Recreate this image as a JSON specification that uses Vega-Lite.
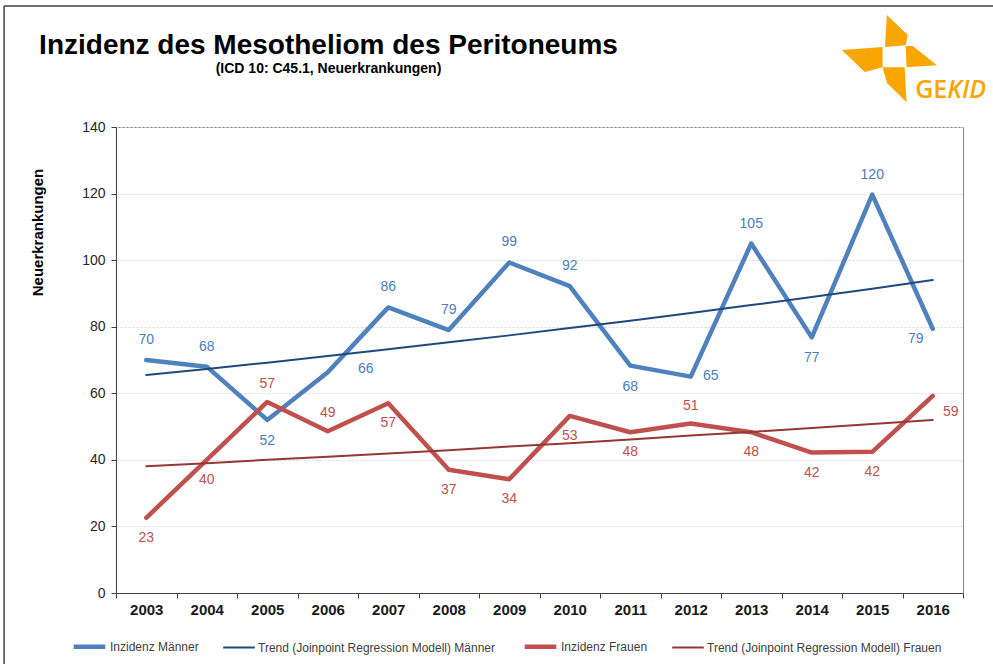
{
  "$schema": "https://vega.github.io/schema/vega-lite/v6.json",
  "autosize": {"type": "none"},
  "width": 847,
  "height": 466,
  "padding": {"left": 116, "top": 127, "right": 30, "bottom": 71},
  "background": "white",
  "config": {
    "font": "Liberation Sans",
    "view": {"stroke": "#898989", "strokeWidth": 1}
  },
  "title": {
    "text": "Inzidenz des Mesotheliom des Peritoneums",
    "subtitle": "(ICD 10: C45.1, Neuerkrankungen)",
    "anchor": "middle",
    "frame": "group",
    "dx": -211,
    "offset": -71,
    "font": "Liberation Sans",
    "fontSize": 28,
    "fontWeight": "bold",
    "color": "#000000",
    "subtitleFont": "Liberation Sans",
    "subtitleFontSize": 14,
    "subtitleFontWeight": "bold",
    "subtitleColor": "#000000",
    "subtitlePadding": 2
  },
  "datasets": {
    "series": [
      {"year": 2003, "series": "Inzidenz Männer", "value": 70},
      {"year": 2004, "series": "Inzidenz Männer", "value": 68},
      {"year": 2005, "series": "Inzidenz Männer", "value": 52},
      {"year": 2006, "series": "Inzidenz Männer", "value": 66.3},
      {"year": 2007, "series": "Inzidenz Männer", "value": 85.8},
      {"year": 2008, "series": "Inzidenz Männer", "value": 79},
      {"year": 2009, "series": "Inzidenz Männer", "value": 99.3},
      {"year": 2010, "series": "Inzidenz Männer", "value": 92.2},
      {"year": 2011, "series": "Inzidenz Männer", "value": 68.3},
      {"year": 2012, "series": "Inzidenz Männer", "value": 65},
      {"year": 2013, "series": "Inzidenz Männer", "value": 105},
      {"year": 2014, "series": "Inzidenz Männer", "value": 76.8},
      {"year": 2015, "series": "Inzidenz Männer", "value": 119.7},
      {"year": 2016, "series": "Inzidenz Männer", "value": 79.4},
      {"year": 2003, "series": "Trend (Joinpoint Regression Modell) Männer", "value": 65.5},
      {"year": 2004, "series": "Trend (Joinpoint Regression Modell) Männer", "value": 67.3},
      {"year": 2005, "series": "Trend (Joinpoint Regression Modell) Männer", "value": 69.2},
      {"year": 2006, "series": "Trend (Joinpoint Regression Modell) Männer", "value": 71.2},
      {"year": 2007, "series": "Trend (Joinpoint Regression Modell) Männer", "value": 73.2},
      {"year": 2008, "series": "Trend (Joinpoint Regression Modell) Männer", "value": 75.3},
      {"year": 2009, "series": "Trend (Joinpoint Regression Modell) Männer", "value": 77.4},
      {"year": 2010, "series": "Trend (Joinpoint Regression Modell) Männer", "value": 79.6},
      {"year": 2011, "series": "Trend (Joinpoint Regression Modell) Männer", "value": 81.8},
      {"year": 2012, "series": "Trend (Joinpoint Regression Modell) Männer", "value": 84.1},
      {"year": 2013, "series": "Trend (Joinpoint Regression Modell) Männer", "value": 86.5},
      {"year": 2014, "series": "Trend (Joinpoint Regression Modell) Männer", "value": 88.9},
      {"year": 2015, "series": "Trend (Joinpoint Regression Modell) Männer", "value": 91.4},
      {"year": 2016, "series": "Trend (Joinpoint Regression Modell) Männer", "value": 94.0},
      {"year": 2003, "series": "Inzidenz Frauen", "value": 22.6},
      {"year": 2004, "series": "Inzidenz Frauen", "value": 40},
      {"year": 2005, "series": "Inzidenz Frauen", "value": 57.4},
      {"year": 2006, "series": "Inzidenz Frauen", "value": 48.6},
      {"year": 2007, "series": "Inzidenz Frauen", "value": 57},
      {"year": 2008, "series": "Inzidenz Frauen", "value": 37},
      {"year": 2009, "series": "Inzidenz Frauen", "value": 34.2},
      {"year": 2010, "series": "Inzidenz Frauen", "value": 53.2},
      {"year": 2011, "series": "Inzidenz Frauen", "value": 48.3},
      {"year": 2012, "series": "Inzidenz Frauen", "value": 50.9},
      {"year": 2013, "series": "Inzidenz Frauen", "value": 48.3},
      {"year": 2014, "series": "Inzidenz Frauen", "value": 42.2},
      {"year": 2015, "series": "Inzidenz Frauen", "value": 42.4},
      {"year": 2016, "series": "Inzidenz Frauen", "value": 59.2},
      {"year": 2003, "series": "Trend (Joinpoint Regression Modell) Frauen", "value": 38.1},
      {"year": 2004, "series": "Trend (Joinpoint Regression Modell) Frauen", "value": 39.0},
      {"year": 2005, "series": "Trend (Joinpoint Regression Modell) Frauen", "value": 40.0},
      {"year": 2006, "series": "Trend (Joinpoint Regression Modell) Frauen", "value": 40.9},
      {"year": 2007, "series": "Trend (Joinpoint Regression Modell) Frauen", "value": 41.9},
      {"year": 2008, "series": "Trend (Joinpoint Regression Modell) Frauen", "value": 42.9},
      {"year": 2009, "series": "Trend (Joinpoint Regression Modell) Frauen", "value": 44.0},
      {"year": 2010, "series": "Trend (Joinpoint Regression Modell) Frauen", "value": 45.0},
      {"year": 2011, "series": "Trend (Joinpoint Regression Modell) Frauen", "value": 46.1},
      {"year": 2012, "series": "Trend (Joinpoint Regression Modell) Frauen", "value": 47.3},
      {"year": 2013, "series": "Trend (Joinpoint Regression Modell) Frauen", "value": 48.4},
      {"year": 2014, "series": "Trend (Joinpoint Regression Modell) Frauen", "value": 49.6},
      {"year": 2015, "series": "Trend (Joinpoint Regression Modell) Frauen", "value": 50.8},
      {"year": 2016, "series": "Trend (Joinpoint Regression Modell) Frauen", "value": 52.0}
    ]
  },
  "data": {"name": "series"},
  "layer": [
    {
      "mark": {"type": "line", "strokeCap": "round", "strokeJoin": "round"},
      "encoding": {
        "x": {
          "field": "year", "type": "quantitative",
          "scale": {"domain": [2002.5, 2016.5], "nice": false, "zero": false},
          "axis": {
            "title": null,
            "values": [2002.5, 2003.5, 2004.5, 2005.5, 2006.5, 2007.5, 2008.5, 2009.5, 2010.5, 2011.5, 2012.5, 2013.5, 2014.5, 2015.5, 2016.5],
            "labelExpr": "datum.value < 2016 ? format(datum.value + 0.5, 'd') : ''",
            "labelOffset": 30.25,
            "labelOverlap": false,
            "labelBound": false,
            "labelFlush": false,
            "labelFont": "Liberation Sans",
            "labelFontSize": 15,
            "labelFontWeight": "bold",
            "labelColor": "#1a1a1a",
            "labelPadding": 4,
            "tickSize": 5,
            "tickColor": "#404040",
            "domainColor": "#404040",
            "grid": false
          }
        },
        "y": {
          "field": "value", "type": "quantitative",
          "scale": {"domain": [0, 140], "nice": false, "zero": true},
          "axis": {
            "title": "Neuerkrankungen",
            "titleFont": "Liberation Sans",
            "titleFontSize": 15,
            "titleFontWeight": "bold",
            "titleColor": "#000000",
            "titleAngle": 270,
            "titleAlign": "center",
            "titleBaseline": "middle",
            "titleX": -79,
            "titleY": 105,
            "values": [0, 20, 40, 60, 80, 100, 120, 140],
            "labelFont": "Liberation Sans",
            "labelFontSize": 14,
            "labelColor": "#262626",
            "labelPadding": 6,
            "tickSize": 5,
            "tickColor": "#404040",
            "domainColor": "#404040",
            "grid": true,
            "gridColor": "#d9d9d9",
            "gridDash": [2, 2]
          }
        },
        "color": {
          "field": "series", "type": "nominal",
          "scale": {
            "domain": ["Inzidenz Männer", "Trend (Joinpoint Regression Modell) Männer", "Inzidenz Frauen", "Trend (Joinpoint Regression Modell) Frauen"],
            "range": ["#4F81BD", "#1F497D", "#C0504D", "#953735"]
          },
          "legend": {
            "title": null,
            "orient": "none",
            "legendX": -45,
            "legendY": 501,
            "direction": "horizontal",
            "symbolType": "stroke",
            "symbolSize": 1000,
            "labelFont": "Liberation Sans",
            "labelFontSize": 12,
            "labelColor": "#404040",
            "labelOffset": 2,
            "labelLimit": 500,
            "columnPadding": 20
          }
        },
        "strokeWidth": {
          "field": "series", "type": "nominal",
          "scale": {
            "type": "ordinal",
            "domain": ["Inzidenz Männer", "Trend (Joinpoint Regression Modell) Männer", "Inzidenz Frauen", "Trend (Joinpoint Regression Modell) Frauen"],
            "range": [4.5, 2, 4.5, 2]
          },
          "legend": {
            "title": null,
            "orient": "none",
            "legendX": -45,
            "legendY": 501,
            "direction": "horizontal",
            "symbolType": "stroke",
            "symbolSize": 1000,
            "labelFont": "Liberation Sans",
            "labelFontSize": 12,
            "labelColor": "#404040",
            "labelOffset": 2,
            "labelLimit": 500,
            "columnPadding": 20
          }
        }
      }
    },
    {
      "transform": [{"filter": "datum.series === 'Inzidenz Männer' && indexof([2003,2004,2007,2008,2009,2010,2013,2015], datum.year) >= 0"}],
      "mark": {"type": "text", "dy": -20, "fontSize": 14, "color": "#4A7EBB", "font": "Liberation Sans"},
      "encoding": {"x": {"field": "year", "type": "quantitative"}, "y": {"field": "value", "type": "quantitative"}, "text": {"field": "value", "type": "quantitative", "format": ".0f"}}
    },
    {
      "transform": [{"filter": "datum.series === 'Inzidenz Männer' && indexof([2005,2011,2014], datum.year) >= 0"}],
      "mark": {"type": "text", "dy": 21, "fontSize": 14, "color": "#4A7EBB", "font": "Liberation Sans"},
      "encoding": {"x": {"field": "year", "type": "quantitative"}, "y": {"field": "value", "type": "quantitative"}, "text": {"field": "value", "type": "quantitative", "format": ".0f"}}
    },
    {
      "transform": [{"filter": "datum.series === 'Inzidenz Männer' && datum.year === 2006"}],
      "mark": {"type": "text", "dx": 38, "dy": -3, "fontSize": 14, "color": "#4A7EBB", "font": "Liberation Sans"},
      "encoding": {"x": {"field": "year", "type": "quantitative"}, "y": {"field": "value", "type": "quantitative"}, "text": {"field": "value", "type": "quantitative", "format": ".0f"}}
    },
    {
      "transform": [{"filter": "datum.series === 'Inzidenz Männer' && datum.year === 2012"}],
      "mark": {"type": "text", "dx": 20, "dy": -1, "fontSize": 14, "color": "#4A7EBB", "font": "Liberation Sans"},
      "encoding": {"x": {"field": "year", "type": "quantitative"}, "y": {"field": "value", "type": "quantitative"}, "text": {"field": "value", "type": "quantitative", "format": ".0f"}}
    },
    {
      "transform": [{"filter": "datum.series === 'Inzidenz Männer' && datum.year === 2016"}],
      "mark": {"type": "text", "dx": -17, "dy": 10, "fontSize": 14, "color": "#4A7EBB", "font": "Liberation Sans"},
      "encoding": {"x": {"field": "year", "type": "quantitative"}, "y": {"field": "value", "type": "quantitative"}, "text": {"field": "value", "type": "quantitative", "format": ".0f"}}
    },
    {
      "transform": [{"filter": "datum.series === 'Inzidenz Frauen' && indexof([2005,2006,2012], datum.year) >= 0"}],
      "mark": {"type": "text", "dy": -18, "fontSize": 14, "color": "#C0504D", "font": "Liberation Sans"},
      "encoding": {"x": {"field": "year", "type": "quantitative"}, "y": {"field": "value", "type": "quantitative"}, "text": {"field": "value", "type": "quantitative", "format": ".0f"}}
    },
    {
      "transform": [{"filter": "datum.series === 'Inzidenz Frauen' && indexof([2003,2004,2007,2008,2009,2010,2011,2013,2014,2015], datum.year) >= 0"}],
      "mark": {"type": "text", "dy": 20, "fontSize": 14, "color": "#C0504D", "font": "Liberation Sans"},
      "encoding": {"x": {"field": "year", "type": "quantitative"}, "y": {"field": "value", "type": "quantitative"}, "text": {"field": "value", "type": "quantitative", "format": ".0f"}}
    },
    {
      "transform": [{"filter": "datum.series === 'Inzidenz Frauen' && datum.year === 2016"}],
      "mark": {"type": "text", "dx": 18, "dy": 16, "fontSize": 14, "color": "#C0504D", "font": "Liberation Sans"},
      "encoding": {"x": {"field": "year", "type": "quantitative"}, "y": {"field": "value", "type": "quantitative"}, "text": {"field": "value", "type": "quantitative", "format": ".0f"}}
    },
    {
      "data": {"values": [{}]},
      "mark": {"type": "point", "shape": "M-0.06,-0.9L0.375,-0.48L0.33,-0.27L-0.1,-0.23Z M-1,-0.17L-0.15,-0.23L-0.15,0.19L-0.52,0.29Z M0.33,-0.25L0.48,-0.25L0.98,0.15L0.35,0.19Z M-0.15,0.19L0.31,0.19L0.35,0.92L-0.06,0.52Z", "filled": true, "size": 9216, "color": "#F9A602", "opacity": 1, "strokeWidth": 0},
      "encoding": {"x": {"datum": 2015.29, "type": "quantitative"}, "y": {"datum": 160.7, "type": "quantitative"}}
    },
    {
      "data": {"values": [{}]},
      "mark": {"type": "text", "text": "GE", "align": "left", "baseline": "alphabetic", "font": "Open Sans", "fontSize": 25, "fontWeight": 600, "color": "#F9A602"},
      "encoding": {"x": {"datum": 2015.71, "type": "quantitative"}, "y": {"datum": 148.7, "type": "quantitative"}}
    },
    {
      "data": {"values": [{}]},
      "mark": {"type": "text", "text": "KID", "align": "left", "baseline": "alphabetic", "font": "Open Sans", "fontSize": 25, "fontWeight": 600, "fontStyle": "italic", "color": "#F9A602"},
      "encoding": {"x": {"datum": 2016.24, "type": "quantitative"}, "y": {"datum": 148.7, "type": "quantitative"}}
    },
    {
      "data": {"values": [{}]},
      "mark": {"type": "rule", "color": "#404040", "strokeWidth": 1.5},
      "encoding": {"x": {"datum": 2000.65, "type": "quantitative"}, "y": {"datum": 176.35, "type": "quantitative"}, "y2": {"datum": -22}}
    },
    {
      "data": {"values": [{}]},
      "mark": {"type": "rule", "color": "#404040", "strokeWidth": 1.5},
      "encoding": {"x": {"datum": 2000.65, "type": "quantitative"}, "x2": {"datum": 2017.2}, "y": {"datum": 176.35, "type": "quantitative"}}
    }
  ]
}
